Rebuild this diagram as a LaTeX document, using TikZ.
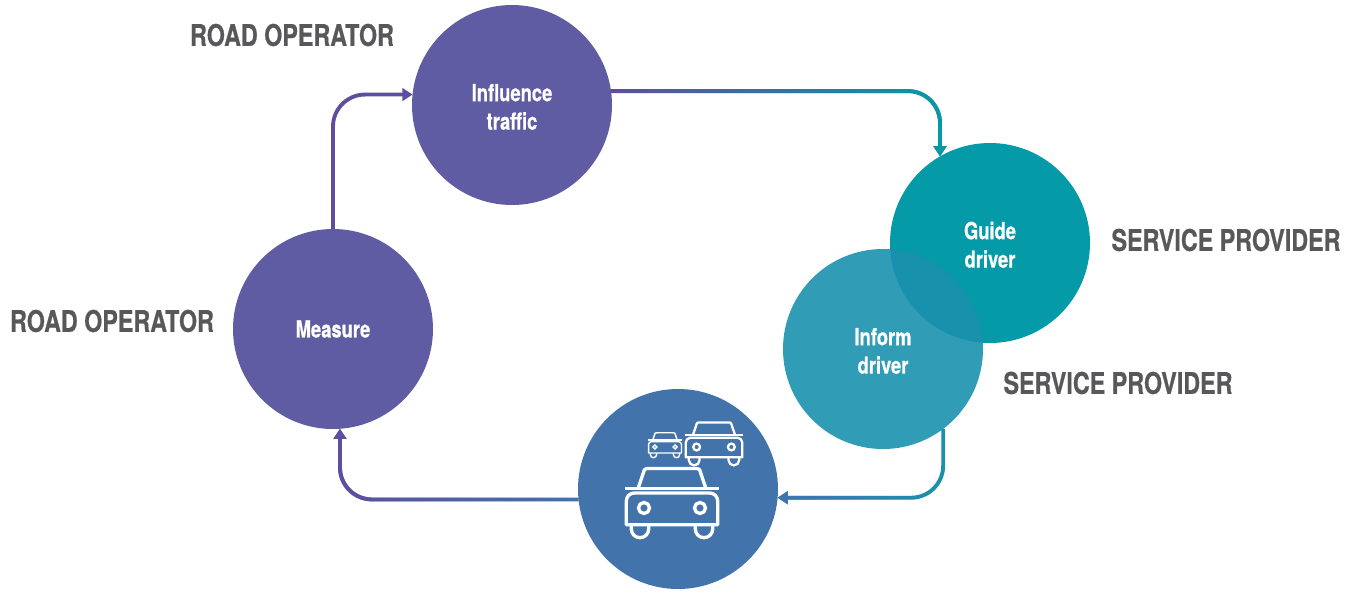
\documentclass[tikz,border=0pt]{standalone}
\usepackage{fontspec}
\setmainfont{TeX Gyre Heros}[FakeStretch=0.78,BoldFeatures={FakeBold=0.6}]
\usepackage{tikz}
\usetikzlibrary{arrows.meta,fadings}
\definecolor{darkpurple}{HTML}{5F4EA0}
\definecolor{circlepurple}{HTML}{5F5CA3}
\definecolor{circleblue}{HTML}{4273AB}
\definecolor{circleteal}{HTML}{049AA8}
\definecolor{informteal}{HTML}{1A91AD}
\definecolor{labelgray}{HTML}{58585A}
\tikzset{
  stage/.style={circle,minimum size=2cm,inner sep=0pt,outer sep=0pt,text=white,align=center,
    font=\fontsize{6.7}{8.1}\selectfont\bfseries},
  twolines/.style={text height=14.1pt},
  actor/.style={text=labelgray,inner sep=0pt,font=\fontsize{8.5}{10}\selectfont\bfseries},
  link/.style={-{Triangle[length=2.9pt,width=3.6pt]},line width=1.1pt,rounded corners=3.2mm},
  pics/car/.style={code={
    \draw[white,line join=round] (-0.457,-0.167) -- (-0.457,0.07) arc (180:90:0.08)
      -- (0.377,0.15) arc (90:0:0.08) -- (0.457,-0.167) -- cycle;  % body
    \draw[white,line join=round] (-0.34,0.193) -- (-0.29,0.34) .. controls (-0.275,0.395) .. (-0.22,0.395)
      -- (0.22,0.395) .. controls (0.275,0.395) .. (0.29,0.34) -- (0.34,0.193);  % roof
    \draw[white] (-0.473,0.193) -- (0.473,0.193);  % mirrors
    \foreach \side in {-1,1} {
      \draw[white] (\side*0.28,0) circle (0.055);  % headlight
      \draw[white] (\side*0.32-0.087,-0.167) -- (\side*0.32-0.087,-0.21)
        arc (180:360:0.087) -- (\side*0.32+0.087,-0.167);  % wheel
    }
  }}
}
\begin{document}
\begin{tikzpicture}
  \useasboundingbox (0,0) rectangle (13.47,5.91);
  \draw (5.12,4.86) node[stage,twolines,fill=circlepurple] (influence) {Influence\\traffic};  % stages
  \draw (3.33,2.62) node[stage,fill=circlepurple] (measure) {Measure};
  \draw (9.90,3.48) node[stage,twolines,fill=circleteal] (guide) {Guide\\driver};
  \draw (8.83,2.42) node[stage,twolines,fill=informteal,fill opacity=0.9,text opacity=1] (inform) {Inform\\driver};
  \draw (6.78,1.02) node[stage,fill=circleblue] (traffic) {};
  \draw (6.72,0.83) pic[line width=0.95pt] {car};  % cars in the bottom circle
  \draw (7.14,1.44) pic[scale=0.62,line width=0.65pt] {car};
  \draw (6.65,1.44) pic[scale=0.36,line width=0.4pt] {car};
  \draw[link,darkpurple] (measure.north) |- (influence.174.3);  % up to influence
  \draw[link,darkpurple] (influence.8.6) -| (guide.120.6);  % over to guide
  \draw[link,circleteal,path fading=west] (influence.8.6) -| (guide.120.6);
  \draw[link,informteal] (inform.-53.2) |- (traffic.-5.2);  % down to the cars
  \draw[link,circleblue,path fading=east] (inform.-53.2) |- (traffic.-5.2);
  \draw[link,circleblue] (traffic.186.3) -| (measure.-86);  % back to measure
  \draw[link,darkpurple,path fading=east] (traffic.186.3) -| (measure.-86);
  \draw (2.92,5.56) node[actor] (actorinfluence) {ROAD OPERATOR};  % labels
  \draw (1.12,2.70) node[actor] (actormeasure) {ROAD OPERATOR};
  \draw (12.26,3.51) node[actor] (actorguide) {SERVICE PROVIDER};
  \draw (11.18,2.08) node[actor] (actorinform) {SERVICE PROVIDER};
\end{tikzpicture}
\end{document}
